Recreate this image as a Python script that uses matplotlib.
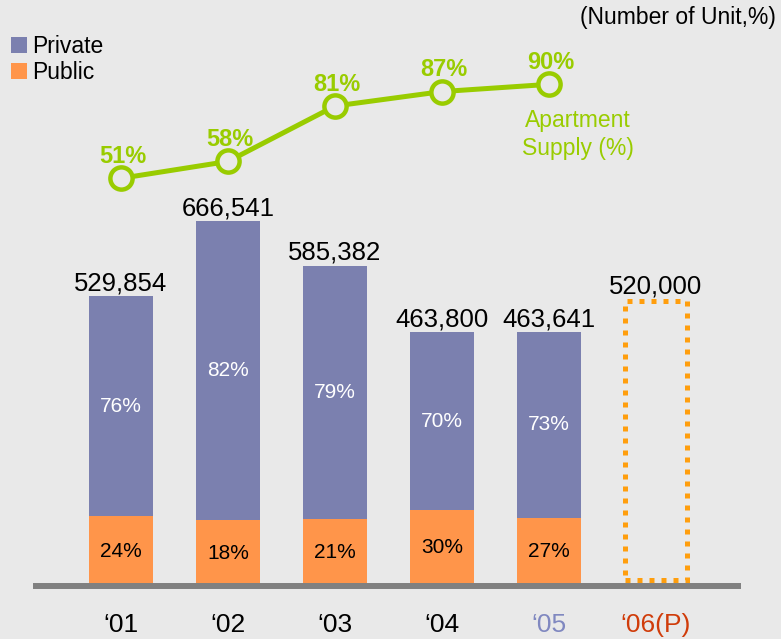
import matplotlib.pyplot as plt
import numpy as np

plt.rcParams["font.family"] = ["Liberation Sans", "DejaVu Sans"]

# data
years = ["\u201801", "\u201802", "\u201803", "\u201804", "\u201805", "\u201806(P)"]
totals = [529854, 666541, 585382, 463800, 463641]
public_pct = [24, 18, 21, 30, 27]
private_pct = [76, 82, 79, 70, 73]
planned_2006 = 520000
apt_supply = [51, 58, 81, 87, 90]

BG = "#E9E9E9"
C_PRIVATE = "#7B80AF"
C_PUBLIC = "#FF954A"
C_PLAN = "#FF9E0D"
C_GREEN = "#99CC00"
TICK_COLORS = ["black", "black", "black", "black", "#8088C0", "#D03C0A"]

x = np.arange(len(totals))
totals_a = np.array(totals, dtype=float)
public = totals_a * np.array(public_pct) / 100
private = totals_a - public

fig = plt.figure(figsize=(7.81, 6.39), dpi=100, facecolor=BG)
ax_h_px = 586
ax = fig.add_axes([36 / 781, 53 / 639, 702 / 781, ax_h_px / 639])
ax.set_facecolor(BG)
ymax = 1.071e6

bw = 0.6
b_pub = ax.bar(x, public, bw, color=C_PUBLIC, label="Public", zorder=1)
b_priv = ax.bar(x, private, bw, bottom=public, color=C_PRIVATE, label="Private", zorder=1)

# planned 2006 volume: dotted outline only, lifted just clear of the base line
lift = 6 * ymax / ax_h_px
ax.bar([len(totals)], [planned_2006 - lift], 0.58, bottom=lift, fill=False,
       edgecolor=C_PLAN, linewidth=3.6, linestyle=(0, (1, 1.4)), zorder=3)

for xi, pu, pr, pp, vp, tot in zip(x, public, private, public_pct, private_pct, totals):
    ax.text(xi, pu / 2, f"{pp}%", ha="center", va="center", fontsize=15, color="black")
    ax.text(xi, pu + pr / 2, f"{vp}%", ha="center", va="center", fontsize=15, color="white")
    ax.annotate(f"{tot:,}", (xi, tot), xytext=(0, 4.3), textcoords="offset points",
                ha="center", va="baseline", fontsize=18.5)
ax.annotate(f"{planned_2006:,}", (len(totals), planned_2006), xytext=(0, 5.5),
            textcoords="offset points", ha="center", va="baseline", fontsize=18.5)

ax.set_xlim(-0.794, 5.766)
ax.set_ylim(0, ymax)
ax.set_yticks([])
ax.set_xticks(np.arange(len(years)))
ax.set_xticklabels(years, fontsize=19)
for lab, c in zip(ax.get_xticklabels(), TICK_COLORS):
    lab.set_color(c)
ax.tick_params(axis="x", length=0, pad=19.5)
for s in ["top", "left", "right"]:
    ax.spines[s].set_visible(False)
ax.spines["bottom"].set_color("#808080")
ax.spines["bottom"].set_linewidth(4.3)
ax.spines["bottom"].set_zorder(4)

# apartment supply line on its own scale
ax2 = ax.twinx()
ax2.patch.set_visible(False)
ax2.plot(x, apt_supply, color=C_GREEN, linewidth=3.6, marker="o", markersize=16,
         markerfacecolor=BG, markeredgecolor=C_GREEN, markeredgewidth=3.2)
for xi, p in zip(x, apt_supply):
    ax2.annotate(f"{p}%", (xi, p), xytext=(1.5, 11), textcoords="offset points",
                 ha="center", va="baseline", fontsize=17, fontweight="bold", color=C_GREEN)
ax2.annotate("Apartment\nSupply (%)", (x[-1], apt_supply[-1]), xytext=(21, -51),
             textcoords="offset points", ha="center", va="baseline", fontsize=16.5,
             color=C_GREEN, linespacing=1.3)
ax2.set_ylim(-118.2, 125)
ax2.set_yticks([])
for s in ax2.spines.values():
    s.set_visible(False)

fig.legend([b_priv, b_pub], ["Private", "Public"], loc="upper left",
           bbox_to_anchor=(11 / 781, 1 - 35 / 639), bbox_transform=fig.transFigure,
           frameon=False, fontsize=16.5, handlelength=0.7, handleheight=0.7,
           handletextpad=0.2, labelspacing=0.12, borderpad=0, borderaxespad=0)

fig.text(776 / 781, 1 - 6 / 639, "(Number of Unit,%)", ha="right", va="top", fontsize=16.5)

fig.savefig("out.png", dpi=100, facecolor=BG)
